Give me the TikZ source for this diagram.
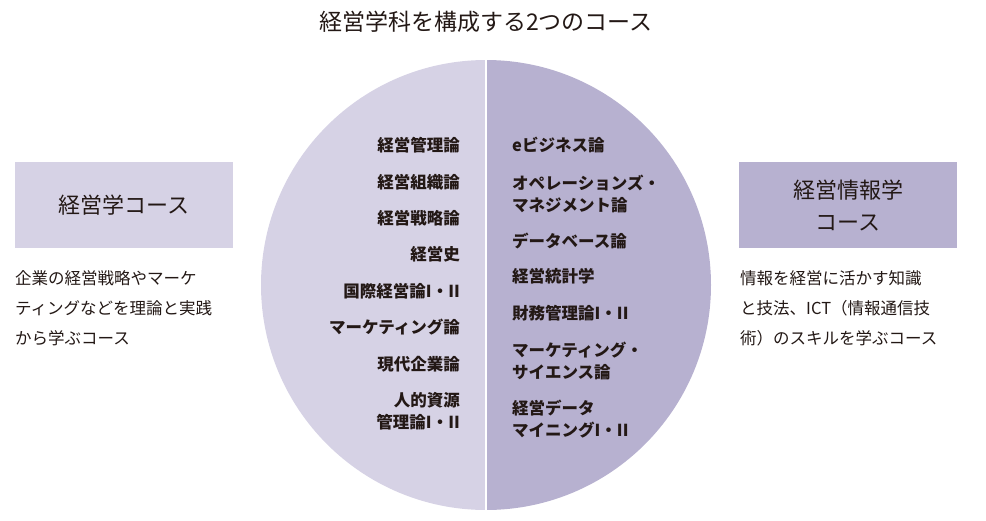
\documentclass[tikz,border=0pt]{standalone}
\usepackage{fontspec}
\setmainfont{Noto Sans CJK JP}
\definecolor{lightpurple}{HTML}{D6D2E5}
\definecolor{darkpurple}{HTML}{B7B1D0}
\definecolor{inktext}{HTML}{231815}
\tikzset{
	course/.style = {align=center, inner sep=0pt, font=\fontsize{16.5}{22}\selectfont\bfseries, text=inktext},
	leftcourse/.style = {course, anchor=east, align=right},
	rightcourse/.style = {course, anchor=west, align=left},
	coursebox/.style = {minimum width=218pt, minimum height=86pt, align=center, font=\fontsize{22}{32}\selectfont, text=inktext},
	summary/.style = {anchor=north west, align=left, inner sep=0pt, font=\fontsize{16.5}{30}\selectfont, text=inktext}
}
\begin{document}
\begin{tikzpicture}[x=1pt, y=-1pt]
		\useasboundingbox (0,0) rectangle (986,520);
		% circle halves
		\fill[lightpurple] (486,60) arc[start angle=-90, end angle=-270, radius=225] -- cycle;
		\fill[darkpurple] (486,60) arc[start angle=-90, end angle=90, radius=225] -- cycle;
		\draw[white, line width=2pt] (486,58) -- (486,512);
		\node [font=\fontsize{23}{26}\selectfont, text=inktext] (title) at (486,22) {経営学科を構成する2つのコース};
		% left courses
		\node [leftcourse] (l1) at (460,145) {経営管理論};
		\node [leftcourse] (l2) at (460,182) {経営組織論};
		\node [leftcourse] (l3) at (460,218) {経営戦略論};
		\node [leftcourse] (l4) at (460,254) {経営史};
		\node [leftcourse] (l5) at (460,291) {国際経営論I・II};
		\node [leftcourse] (l6) at (460,327) {マーケティング論};
		\node [leftcourse] (l7) at (460,364) {現代企業論};
		\node [leftcourse] (l8) at (460,411) {人的資源\\管理論I・II};
		% right courses
		\node [rightcourse] (r1) at (512,145) {eビジネス論};
		\node [rightcourse] (r2) at (512,194) {オペレーションズ・\\マネジメント論};
		\node [rightcourse] (r3) at (512,241) {データベース論};
		\node [rightcourse] (r4) at (512,276) {経営統計学};
		\node [rightcourse] (r5) at (512,313) {財務管理論I・II};
		\node [rightcourse] (r6) at (512,361) {マーケティング・\\サイエンス論};
		\node [rightcourse] (r7) at (512,419) {経営データ\\マイニングI・II};
		% side boxes
		\node [coursebox, fill=lightpurple] (mgmt) at (124,205) {経営学コース};
		\node [coursebox, fill=darkpurple] (info) at (848,205) {経営情報学\\コース};
		\node [summary] (mgmtnote) at (15,270) {企業の経営戦略やマーケ\\ティングなどを理論と実践\\から学ぶコース};
		\node [summary] (infonote) at (740,270) {情報を経営に活かす知識\\と技法、ICT（情報通信技\\術）のスキルを学ぶコース};
\end{tikzpicture}
\end{document}
